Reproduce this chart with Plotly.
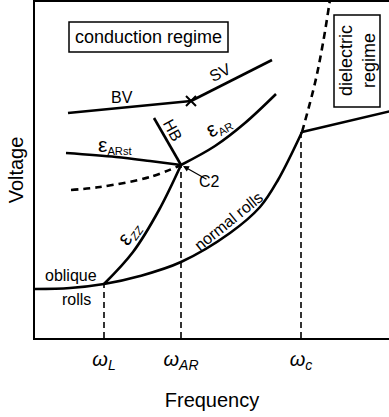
import plotly.graph_objects as go

# ---- data (arbitrary frequency / voltage units) ----
nr_f = [0, 35, 69, 105, 146, 195, 225, 243, 267]
nr_v = [49, 50, 54, 62, 76, 105, 131, 158, 206]

diel_bound_f = [267, 280, 288, 296]
diel_bound_v = [206, 255, 295, 345]

diel_rolls_f = [267, 356]
diel_rolls_v = [206, 227]

ezz_f = [69, 98, 124, 146]
ezz_v = [54, 86, 128, 173]

earst_f = [31, 81, 115, 146]
earst_v = [185, 181, 177, 173]

edash_f = [36, 65, 115, 146]
edash_v = [148, 151, 161, 173]

hb_f = [119, 146]
hb_v = [220, 173]

ear_f = [146, 180, 210, 241]
ear_v = [173, 192, 215, 244]

bv_f = [33, 156]
bv_v = [225, 237]

sv_f = [156, 237]
sv_v = [237, 278]

x_point = (156, 237)
c2_point = (146, 173)

tick_vals = [69, 146, 266]
tick_text = ["<i>ω<sub>L</sub></i>", "<i>ω<sub>AR</sub></i>", "<i>ω<sub>c</sub></i>"]

vline_f = [69, 146, 266]
vline_top = [54, 173, 206]

FONT = "Liberation Sans, Arial, sans-serif"
LW = 2.6

fig = go.Figure()

def solid(xs, ys, shape="spline"):
    fig.add_trace(go.Scatter(x=xs, y=ys, mode="lines", line=dict(color="black", width=LW, shape=shape),
                             hoverinfo="skip", showlegend=False))

def dashed(xs, ys, width=LW, dash="7px,5px"):
    fig.add_trace(go.Scatter(x=xs, y=ys, mode="lines",
                             line=dict(color="black", width=width, dash=dash, shape="spline"),
                             hoverinfo="skip", showlegend=False))

# vertical dashed guides
for f, top in zip(vline_f, vline_top):
    dashed([f, f], [0, top], width=1.6, dash="6px,4px")

solid(nr_f, nr_v)
dashed(diel_bound_f, diel_bound_v)
solid(diel_rolls_f, diel_rolls_v, "linear")
solid(ezz_f, ezz_v)
solid(earst_f, earst_v)
dashed(edash_f, edash_v)
solid(hb_f, hb_v, "linear")
solid(ear_f, ear_v)
solid(bv_f, bv_v, "linear")
solid(sv_f, sv_v, "linear")

fig.add_trace(go.Scatter(x=[x_point[0]], y=[x_point[1]], mode="markers",
                         marker=dict(symbol="x-thin", size=10, line=dict(color="black", width=2)),
                         hoverinfo="skip", showlegend=False))

def label(x, y, text, size=16, angle=0):
    fig.add_annotation(x=x, y=y, text=text, showarrow=False, textangle=angle,
                       font=dict(family=FONT, size=size, color="black"))

EPS = '<span style="font-size:21px">ε</span>'

label(87, 241, "BV")
label(185, 266, "SV", angle=-27)
label(80, 193, EPS + "<sub>ARst</sub>", size=16)
label(138, 208, "HB", angle=62)
label(183, 212, EPS + "<sub>AR</sub>", size=16, angle=-30)
label(94, 105, EPS + "<sub><i>ZZ</i></sub>", size=16, angle=-55)
label(193, 117, "normal rolls", angle=-39)
label(36, 63, "oblique")
label(41, 39, "rolls")

fig.add_annotation(x=c2_point[0] + 2, y=c2_point[1] - 1, ax=c2_point[0] + 27, ay=c2_point[1] - 15,
                   axref="x", ayref="y", showarrow=True, arrowhead=2, arrowsize=1, arrowwidth=1.2,
                   arrowcolor="black", text="")
label(174, 157, "C2")

# boxes
fig.add_shape(type="rect", x0=34, x1=193, y0=286, y1=316, line=dict(color="black", width=1.5))
label(113.5, 301, "conduction regime", size=18)
fig.add_shape(type="rect", x0=299, x1=345, y0=231, y1=323, line=dict(color="black", width=1.5))
label(322, 277, "dielectric<br>regime", size=18, angle=-90)

fig.update_layout(
    width=389, height=417,
    margin=dict(l=35, r=0, t=2, b=79),
    paper_bgcolor="white", plot_bgcolor="white",
    font=dict(family=FONT, color="black"),
    xaxis=dict(range=[0, 354], showgrid=False, zeroline=False, showline=True, mirror=True,
               linecolor="black", linewidth=1.5, tickvals=tick_vals, ticktext=tick_text,
               ticks="", tickfont=dict(size=20), ticklabelstandoff=2,
               title=dict(text="Frequency", font=dict(size=20), standoff=21), automargin=False),
    yaxis=dict(range=[0, 336], showgrid=False, zeroline=False, showline=True, mirror=False,
               linecolor="black", linewidth=1.5, showticklabels=False, ticks="",
               title=dict(text="Voltage", font=dict(size=20), standoff=4), automargin=False),
)

fig.write_html("out.html", config={"displayModeBar": False},
               post_script="document.body.style.margin='0px';")
